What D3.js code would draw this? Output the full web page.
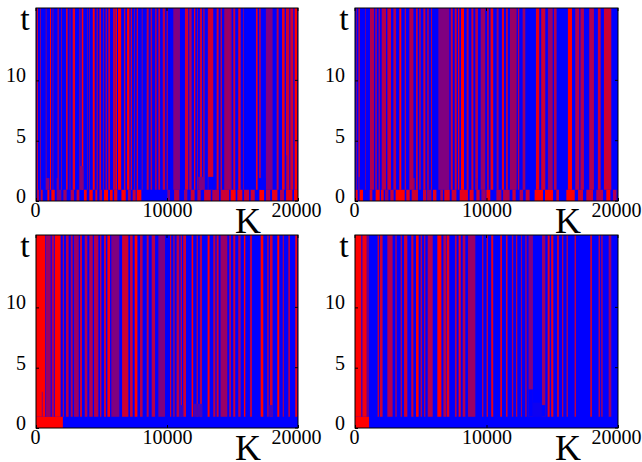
<!DOCTYPE html>
<html><head><meta charset="utf-8">
<script src="https://cdn.jsdelivr.net/npm/d3@7"></script>
<style>html,body{margin:0;padding:0;background:#fff}svg{display:block}text{font-family:"Liberation Serif",serif;fill:#000}</style>
</head><body><svg id="c" width="642" height="462"></svg>
<script>
// each stripe: [K start, K end, share of red]
const stripesA=[[50,150,.8],[300,360,.7],[740,810,.5],[1070,1150,1],[1270,1320,.7],[1650,1730,.8],[1930,1980,.8],[2290,2420,.8],[2570,2620,.8],[2800,2980,.9],[3310,3380,.7],[3490,3610,1],[3920,3970,.6],[4070,4120,.7],[4330,4480,1],[4630,4710,.8],[4840,4960,.8],[5140,5190,.7],[5320,5400,.8],[5520,5650,.8],[5900,6010,1],[6060,6180,1],[6260,6500,1],[6720,6820,.8],[6950,7130,1],[7230,7330,.8],[7480,7530,.8],[7690,7790,.8],[8070,8140,.6],[8450,8600,.7],[8750,8860,.7],[9090,9210,.7],[9340,9470,.8],[9670,9850,.7],[9980,10050,.9],[10480,10990,.5],[11370,11620,.8],[11700,11880,.7],[12060,12160,.9],[12310,12360,.8],[12510,12670,.8],[12770,12870,.7],[13120,13530,.8],[13790,13940,.8],[14090,14190,.8],[14370,14930,.6],[15060,15210,.8],[15440,15620,.9],[15820,15870,.7],[16790,16920,.9],[17040,17150,.8],[17550,18060,.5],[18370,18520,.7],[18780,18980,.9],[19080,19340,.8],[19410,19640,.8],[19740,19950,1]];
const rowA=[[100,200,1],[360,510,.8],[870,1020,1],[1170,1430,1],[1580,1930,.5],[2090,2340,.6],[2650,2900,.7],[3100,3310,.8],[3660,3870,1],[4070,4330,1],[4530,4680,.9],[4840,5040,.7],[5190,5500,1],[5650,5850,1],[5960,6210,.9],[6520,6850,1],[7020,7230,.7],[7380,7610,.8],[7690,8040,1],[10030,10230,.5],[10540,10940,.7],[11300,11550,.6],[11810,12110,.8],[12320,12570,.7],[12830,13340,.8],[13460,13970,.7],[14100,14740,.8],[14860,15240,1],[15370,15750,.9],[15880,16260,.8],[16390,16700,.8],[17050,17410,1],[17560,17870,.7],[18020,18430,.9],[18630,18930,.7],[19090,19570,.9],[19700,20000,1]];
const stripesB=[[80,130,.7],[250,380,.7],[760,810,.6],[1140,1440,.7],[1550,1650,.8],[1800,1880,.8],[2030,2360,.7],[2460,2740,.8],[2920,3120,.7],[3370,3520,1],[3780,3880,.7],[4130,4440,.7],[4640,4770,.8],[4890,4990,.8],[5200,5350,.8],[5500,5600,.8],[5780,5860,.7],[6340,7170,.5],[7280,7430,.8],[7580,7730,.8],[7830,7930,.9],[8060,8290,1],[8490,8640,.7],[8850,9000,.8],[9150,9350,.7],[9560,9900,.6],[10060,10160,.9],[10310,10510,.9],[10770,10920,.6],[11170,11325,.9],[11480,11630,.7],[11780,12290,.6],[12390,12490,.8],[12745,12950,.6],[13760,14010,.9],[14160,14470,.8],[14670,15030,.6],[15130,15330,.7],[16190,16500,1],[16750,17050,.7],[17150,17410,.7],[17810,18170,.7],[18470,18680,.8],[18930,19490,.8]];
const rowB=[[50,200,1],[350,610,1],[1120,1320,.8],[1570,1880,1],[1980,2180,.9],[2280,2540,.6],[2690,2940,.8],[3090,3780,1],[3900,4160,.9],[4310,4790,.8],[5170,5420,.8],[5480,5810,.6],[5930,6190,.9],[6490,6690,.7],[6790,7200,.9],[7350,7710,.8],[7960,8590,.9],[8720,9020,.9],[9230,9480,.8],[9610,9940,.6],[9990,10290,1],[10750,11130,.7],[11260,11760,.7],[11970,12220,.8],[12520,12780,.7],[12980,13280,.8],[13660,14300,1],[14450,15060,1],[15310,15510,.8],[16070,16710,1],[16960,17340,.8],[17590,18100,.8],[18350,18860,.7],[19110,19420,1],[19620,19880,.7]];
const stripesC=[[0,710,1],[760,1120,.6],[1200,1370,.7],[1430,1880,1],[2040,2140,.7],[2290,2490,.7],[2650,2800,.7],[2900,3260,.6],[3360,3510,.8],[3720,3920,.7],[4070,4330,.7],[4430,4760,.7],[4890,4990,.8],[5190,5340,.8],[5450,5650,1],[5750,6360,.5],[6570,7050,.8],[7180,7380,.8],[7530,7740,1],[7940,8140,.7],[8450,8600,.7],[8830,9090,.7],[9340,9850,.5],[10230,10320,.8],[10480,10580,.7],[10730,10940,.7],[11040,11140,.8],[11240,11450,.8],[11880,12000,1],[12260,12360,.7],[12510,12670,.7],[13100,13250,1],[13530,13690,.7],[13790,13940,.8],[14090,14600,.6],[14750,14880,.7],[15060,15210,.8],[15440,15620,.7],[15870,15980,1],[16330,16490,.7],[17150,17350,1],[17650,17760,.7],[17860,18060,.8],[18420,18570,1],[18830,18930,.6],[19260,19390,.7],[19790,19950,.9]];
const rowC=[[0,2050,1]];
const stripesD=[[0,480,1],[560,890,.95],[940,1040,.6],[1720,1820,.8],[1900,2100,.8],[2460,2860,.7],[3070,3170,.7],[3470,3570,.7],[3730,3980,.8],[4280,4440,.8],[4640,4840,1],[4990,5100,.7],[5250,5350,.7],[5530,5910,.7],[6260,6570,1],[6720,6920,.7],[6970,7170,.9],[7600,7730,.7],[7880,8040,.9],[8190,8390,.7],[8590,9150,.6],[9660,9760,.7],[10010,10110,.8],[10360,10510,.9],[11050,11170,1],[11480,11600,.8],[11930,12030,.7],[12240,12340,.7],[12620,12690,.7],[12950,13050,.7],[13200,13530,.5],[14220,14470,.6],[14650,14800,.9],[14920,15080,.9],[15360,15510,.7],[15740,15840,.7],[16090,16190,.7],[16700,16800,.8],[17890,18020,.8],[18520,18630,.7],[18730,18830,.7],[19290,19490,.6]];
const rowD=[[0,1070,1]];
// short patches just above the first row: [K start, K end, t start, t end, share of red]
const patchesA=[[760,1020,.93,1.9,.5],[1580,1750,.93,1.9,.5],[3360,3610,.93,2.9,.55],[12390,12770,.93,2,.5],[13150,13660,.93,2,0],[16970,17550,.93,1.9,0],[19100,19180,.93,3.8,.5]];
const patchesB=[[250,380,.93,2,.3],[4440,4520,.93,1.9,.8],[9200,9300,.93,1.9,.6]];
const patchesC=[[440,520,.93,3,.55],[11000,11240,.93,1.9,.2],[12050,12700,.93,2,.3],[17800,18100,.93,1.9,.3]];
const patchesD=[[13200,13530,.93,3.2,0],[14220,14470,.93,1.9,0],[13530,14220,.93,2.1,.05]];
const xTicks=[0,10000,20000], yTicks=[0,5,10];

const panels=[
 {x:36,y:8,w:262,s:stripesA,r:rowA,p:patchesA},
 {x:355,y:8,w:263,s:stripesB,r:rowB,p:patchesB},
 {x:36,y:235,w:262,s:stripesC,r:rowC,p:patchesC},
 {x:355,y:235,w:263,s:stripesD,r:rowD,p:patchesD}];
const H=193;
const color=d3.scaleLinear().domain([0,1]).range(["#0000ff","#ff0000"]);
const svg=d3.select("#c");
panels.forEach(P=>{
  const g=svg.append("g").attr("transform",`translate(${P.x},${P.y})`);
  const x=d3.scaleLinear().domain([0,20000]).range([0,P.w]);
  const y=d3.scaleLinear().domain([0,16]).range([H,0]);
  g.append("rect").attr("width",P.w).attr("height",H).attr("fill",color(0));
  const up=P.s.map(d=>[d[0],d[1],.93,16,d[2]]);
  const low=P.r.map(d=>[d[0],d[1],0,.93,d[2]]);
  g.selectAll("rect.c").data(up.concat(low,P.p)).join("rect").attr("class","c")
    .attr("x",d=>x(d[0])).attr("width",d=>x(d[1])-x(d[0]))
    .attr("y",d=>y(d[3])).attr("height",d=>y(d[2])-y(d[3]))
    .attr("fill",d=>color(d[4]));
  const ax=g.append("g").attr("transform",`translate(0,${H})`)
    .call(d3.axisBottom(x).tickValues(xTicks).tickFormat(d3.format("d")).tickSizeInner(-3).tickSizeOuter(0).tickPadding(2));
  const ay=g.append("g")
    .call(d3.axisLeft(y).tickValues(yTicks).tickSizeInner(-3).tickSizeOuter(0).tickPadding(10));
  [ax,ay].forEach(a=>{a.selectAll("path").remove();a.selectAll("line").attr("stroke","#000");
    a.selectAll("text").style("font-size","20px").style("font-family",'"Liberation Serif",serif').attr("fill","#000");});
  ax.selectAll("text").attr("dy","0.72em").attr("dx",d=>d===20000?-2:(d===0?-1:0));
  ay.selectAll("text").attr("dy","1.5").attr("dominant-baseline","auto");
  g.append("g").selectAll("line").data(yTicks).join("line")
    .attr("x1",P.w).attr("x2",P.w-3).attr("y1",y).attr("y2",y).attr("stroke","#000");
  g.append("g").selectAll("line").data(xTicks).join("line")
    .attr("x1",x).attr("x2",x).attr("y1",0).attr("y2",3).attr("stroke","#000");
  g.append("rect").attr("width",P.w).attr("height",H).attr("fill","none").attr("stroke","#000").attr("stroke-width",1);
  g.append("text").attr("x",-11).attr("y",22).attr("text-anchor","middle").style("font-size","34px").text("t");
  g.append("text").attr("x",P.w-50).attr("y",H+32).attr("text-anchor","middle").style("font-size","36px").text("K");
});
</script></body></html>
